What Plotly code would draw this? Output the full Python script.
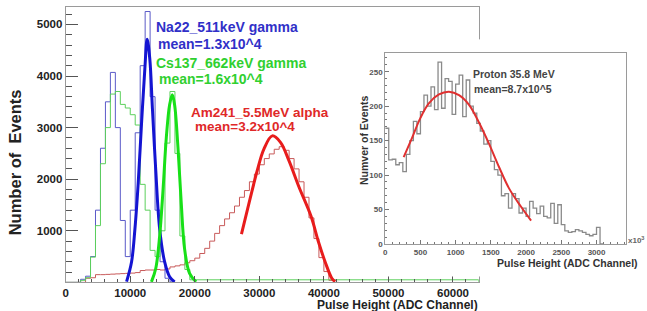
import numpy as np
import plotly.graph_objects as go

W, H = 647, 311

# ---------------- main panel data ----------------
MAIN_BIN_WIDTH = 10000 / 13.0   # ADC channels per bin
na22_counts = [0, 0, 0, 60, 120, 500, 1400, 2600, 3500, 4070, 3000, 1200, 500, 1400,
               2900, 4200, 5250, 3600, 1400, 400, 80, 10]
cs137_counts = [0, 0, 0, 40, 90, 490, 1100, 2300, 3000, 3650, 3700, 3450, 3380, 3250,
                3050, 1900, 1400, 620, 500, 1000, 2700, 3700, 2500, 900, 250, 50]
am241_counts = [0, 0, 0, 0, 80, 90, 150, 150, 155, 160, 165, 170, 175, 180, 190, 230,
                240, 240, 250, 240, 260, 300, 320, 340, 380, 420, 470, 560, 660, 800,
                950, 1100, 1230, 1350, 1480, 1650, 1780, 1950, 2100, 2280, 2400, 2490,
                2580, 2630, 2560, 2400, 2200, 1950, 1650, 1250, 850, 480, 210, 40, 0]

na22_fit_x = [9430, 10200, 10720, 11230, 11740, 12260, 12620, 13030, 13430, 13950,
              14560, 15330, 16100, 16870]
na22_fit_y = [15, 396, 1030, 1920, 3060, 4140, 4714, 4330, 3380, 2175, 1030, 396, 110, 10]
cs137_fit_x = [13280, 13950, 14560, 15080, 15590, 16100, 16510, 16870, 17390, 17900,
               18420, 19190, 20200]
cs137_fit_y = [10, 270, 905, 1795, 2810, 3445, 3635, 3445, 2620, 1540, 650, 175, 10]
am241_fit_x = [27230, 28410, 29690, 30720, 32000, 33280, 34570, 36110, 38000, 39180,
               40200, 41230, 41740]
am241_fit_y = [937, 1540, 2175, 2590, 2840, 2715, 2365, 1860, 1286, 777, 396, 80, 15]

main_xticks = [0, 10000, 20000, 30000, 40000, 50000, 60000]
main_yticks = [1000, 2000, 3000, 4000, 5000]

# ---------------- inset data ----------------
INSET_BIN_WIDTH = 50
proton_counts = [168, 122, 123, 115, 118, 105, 130, 150, 178, 160, 192, 216, 200, 228,
                 195, 264, 197, 240, 236, 188, 232, 245, 185, 238, 200, 190, 175, 164,
                 145, 150, 120, 108, 100, 70, 73, 52, 73, 66, 45, 52, 40, 62, 52, 44,
                 55, 40, 38, 59, 30, 57, 28, 19, 17, 18, 21, 19, 17, 14, 12, 14, 24, 0]
proton_fit_x = [262, 381, 500, 619, 762, 905, 1048, 1190, 1333, 1476, 1619, 1762, 1929, 2071]
proton_fit_y = [126, 154, 183, 204, 217, 221, 216, 202, 176, 145, 111, 80, 54, 34]
inset_xticks = [0, 500, 1000, 1500, 2000, 2500, 3000]
inset_yticks = [0, 50, 100, 150, 200, 250]


def step_xy(counts, width, x_end=None):
    edges = list(np.arange(len(counts) + 1) * width)
    ys = list(counts) + [counts[-1]]
    if x_end is not None:
        edges = edges + [x_end]
        ys = ys + [0]
    return edges, ys


def px(x):
    return x / W


def py(y):
    return 1 - y / H


FONT = "Liberation Sans"

fig = go.Figure()

# raw histograms
for counts, col, xe in [(am241_counts, "#c85a5a", None),
                        (na22_counts, "#5a5ac8", None),
                        (cs137_counts, "#5cd05c", 64000)]:
    xs, ys = step_xy(counts, MAIN_BIN_WIDTH, xe)
    fig.add_trace(go.Scatter(x=xs, y=ys, mode="lines", line=dict(color=col, width=1, shape="hv"),
                             showlegend=False, hoverinfo="skip", xaxis="x", yaxis="y"))

# fits
for fx, fy, col in [(na22_fit_x, na22_fit_y, "#1414d2"),
                    (cs137_fit_x, cs137_fit_y, "#18e018"),
                    (am241_fit_x, am241_fit_y, "#e81c1c")]:
    fig.add_trace(go.Scatter(x=fx, y=fy, mode="lines", line=dict(color=col, width=3, shape="spline"),
                             showlegend=False, hoverinfo="skip", xaxis="x", yaxis="y"))

# cover subplot (white background to hide main behind inset area)
fig.add_trace(go.Scatter(x=[None], y=[None], xaxis="x2", yaxis="y2", showlegend=False, hoverinfo="skip"))

# inset
xs, ys = step_xy(proton_counts, INSET_BIN_WIDTH)
fig.add_trace(go.Scatter(x=xs, y=ys, mode="lines", line=dict(color="#8a8a8a", width=1.3, shape="hv"),
                         showlegend=False, hoverinfo="skip", xaxis="x3", yaxis="y3"))
fig.add_trace(go.Scatter(x=proton_fit_x, y=proton_fit_y, mode="lines",
                         line=dict(color="#e03030", width=2, shape="spline"),
                         showlegend=False, hoverinfo="skip", xaxis="x3", yaxis="y3"))

frame = "#9a9a9a"
fig.update_layout(
    width=W, height=H, margin=dict(l=0, r=0, t=0, b=0),
    paper_bgcolor="white", plot_bgcolor="white",
    xaxis=dict(domain=[px(63), px(478)], range=[0, 64000], tickmode="array", tickvals=main_xticks,
               ticktext=[str(v) for v in main_xticks], ticks="inside", ticklen=6, tickcolor="#555",
               showline=True, linecolor=frame, mirror=True, showgrid=False, zeroline=False,
               tickfont=dict(family=FONT, size=11.5, color="#222", weight="bold"),
               minor=dict(tickmode="linear", tick0=0, dtick=2000, ticks="inside", ticklen=3, tickcolor="#555"),
               anchor="y"),
    yaxis=dict(domain=[py(287), py(7)], range=[0, 5340], tickmode="array", tickvals=main_yticks,
               ticks="inside", ticklen=12, tickcolor="#555",
               showline=True, linecolor=frame, mirror=True, showgrid=False, zeroline=False,
               tickfont=dict(family=FONT, size=11.5, color="#222", weight="bold"),
               minor=dict(tickmode="linear", tick0=0, dtick=200, ticks="inside", ticklen=6, tickcolor="#555"),
               anchor="x"),
    xaxis2=dict(domain=[px(350), 1.0], range=[0, 1], visible=False, anchor="y2", fixedrange=True),
    yaxis2=dict(domain=[py(281), py(40)], range=[0, 1], visible=False, anchor="x2", fixedrange=True),
    xaxis3=dict(domain=[px(384), px(626)], range=[0, 3420], tickmode="array", tickvals=inset_xticks,
                ticks="inside", ticklen=4, tickcolor="#777",
                showline=True, linecolor=frame, mirror=True, showgrid=False, zeroline=False,
                tickfont=dict(family=FONT, size=8, color="#555", weight="bold"),
                minor=dict(tickmode="linear", tick0=0, dtick=100, ticks="inside", ticklen=2, tickcolor="#777"),
                anchor="y3"),
    yaxis3=dict(domain=[py(248), py(54)], range=[0, 277], tickmode="array", tickvals=inset_yticks,
                ticks="inside", ticklen=4, tickcolor="#777",
                showline=True, linecolor=frame, mirror=True, showgrid=False, zeroline=False,
                tickfont=dict(family=FONT, size=8, color="#555", weight="bold"),
                minor=dict(tickmode="linear", tick0=0, dtick=10, ticks="inside", ticklen=2, tickcolor="#777"),
                anchor="x3"),
)

ann = []


def add_text(text, x, y, size, color, xanchor="left", angle=0):
    ann.append(dict(text=text, x=px(x), y=py(y), xref="paper", yref="paper", xanchor=xanchor,
                    yanchor="middle", showarrow=False, textangle=angle, borderpad=0,
                    font=dict(family=FONT, size=size, color=color, weight="bold")))


add_text("Na22_511keV gamma", 153, 27, 14, "#3030c8")
add_text("mean=1.3x10^4", 155, 45, 14, "#3030c8")
add_text("Cs137_662keV gamma", 153, 64, 14, "#30d030")
add_text("mean=1.6x10^4", 156, 80, 14, "#30d030")
add_text("Am241_5.5MeV alpha", 188, 114, 13.5, "#e02828")
add_text("mean=3.2x10^4", 192, 129, 13.5, "#e02828")
add_text("Number of\u00a0 Events", 12, 165, 16.5, "#222", xanchor="center", angle=-90)
add_text("Pulse Height (ADC Channel)", 478, 310, 12, "#222", xanchor="right")

add_text("Proton 35.8 MeV", 471, 75, 10.5, "#444")
add_text("mean=8.7x10^5", 472, 90, 10.5, "#444")
add_text("Numver of Events", 362, 143, 10.5, "#333", xanchor="center", angle=-90)
add_text("Pulse Height (ADC Channel)", 567, 267, 10.5, "#333", xanchor="center")
add_text("x10<sup>3</sup>", 645, 244, 8, "#666", xanchor="right")

fig.update_layout(annotations=ann)

fig.write_html("out.html")
